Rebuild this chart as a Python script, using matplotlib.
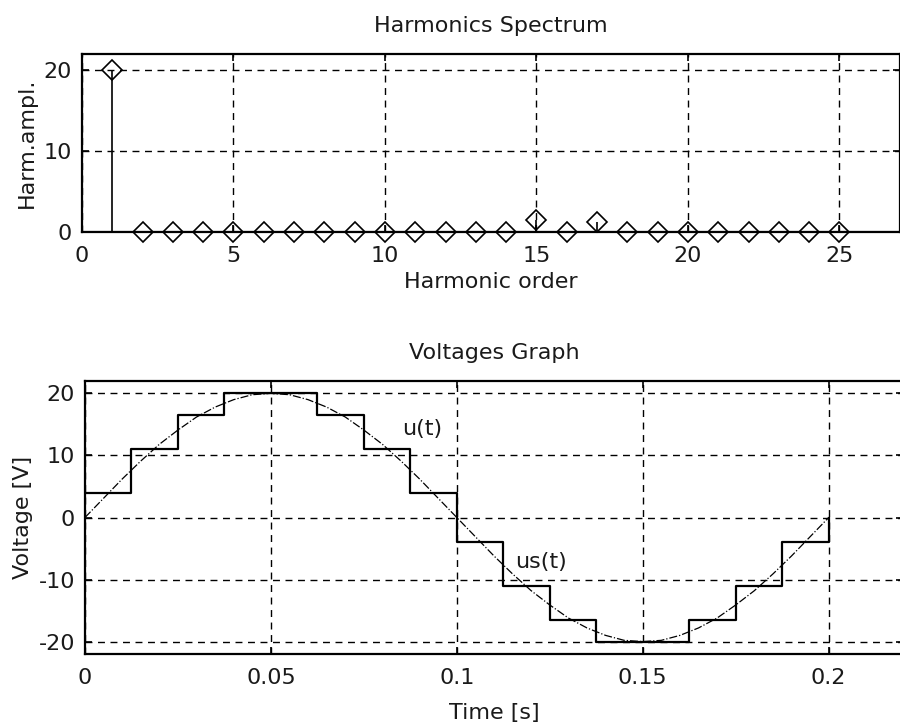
import numpy as np
import matplotlib.pyplot as plt

# harmonics spectrum
harm_order = [1, 2, 3, 4, 5, 6, 7, 8, 9, 10, 11, 12, 13, 14, 15, 16, 17,
              18, 19, 20, 21, 22, 23, 24, 25]
harm_ampl = [20.0, 0, 0, 0, 0, 0, 0, 0, 0, 0, 0, 0, 0, 0, 1.45, 0, 1.2,
             0, 0, 0, 0, 0, 0, 0, 0]

# u(t), read every 5 ms
t_u = [0.000, 0.005, 0.010, 0.015, 0.020, 0.025, 0.030, 0.035, 0.040, 0.045,
       0.050, 0.055, 0.060, 0.065, 0.070, 0.075, 0.080, 0.085, 0.090, 0.095,
       0.100, 0.105, 0.110, 0.115, 0.120, 0.125, 0.130, 0.135, 0.140, 0.145,
       0.150, 0.155, 0.160, 0.165, 0.170, 0.175, 0.180, 0.185, 0.190, 0.195,
       0.200]
u = [0.0, 3.1, 6.2, 9.1, 11.8, 14.1, 16.2, 17.8, 19.0, 19.8,
     20.0, 19.8, 19.0, 17.8, 16.2, 14.1, 11.8, 9.1, 6.2, 3.1,
     0.0, -3.1, -6.2, -9.1, -11.8, -14.1, -16.2, -17.8, -19.0, -19.8,
     -20.0, -19.8, -19.0, -17.8, -16.2, -14.1, -11.8, -9.1, -6.2, -3.1,
     0.0]

# us(t) staircase
t_us = [0.0, 0.0125, 0.025, 0.0375, 0.0625, 0.075, 0.0875, 0.1, 0.1125,
        0.125, 0.1375, 0.1625, 0.175, 0.1875, 0.2]
us = [3.9, 11.1, 16.6, 20.0, 16.6, 11.1, 3.9, -3.9, -11.1, -16.6, -20.0,
      -16.6, -11.1, -3.9, 0.0]

plt.rcParams['font.family'] = 'DejaVu Sans'
plt.rcParams['font.size'] = 16
plt.rcParams['axes.unicode_minus'] = False
txt_col = '#1a1a1a'

fig = plt.figure(figsize=(9, 7.24), dpi=100)
ax1 = fig.add_axes([0.091, 0.6796, 0.909, 0.2459])
ax2 = fig.add_axes([0.0944, 0.0967, 0.909, 0.377])

grid_kw = dict(color='black', linestyle=(0, (5, 4)), linewidth=1.0)

# top: stem plot
ax1.vlines(harm_order, 0, harm_ampl, color='black', linewidth=1.2, zorder=3)
ax1.axhline(0, color='black', linewidth=1.5, zorder=3)
ax1.plot(harm_order, harm_ampl, linestyle='none', marker='D', markersize=10,
         markerfacecolor='none', markeredgecolor='black', markeredgewidth=1.2,
         zorder=4, clip_on=False)
ax1.set_xlim(0, 27)
ax1.set_ylim(0, 22)
ax1.set_xticks([0, 5, 10, 15, 20, 25])
ax1.set_yticks([0, 10, 20])
ax1.grid(True, **grid_kw)
ax1.set_title('Harmonics Spectrum', fontsize=16, pad=16, color=txt_col)
ax1.set_xlabel('Harmonic order', color=txt_col)
ax1.set_ylabel('Harm.ampl.', color=txt_col)
ax1.xaxis.set_label_coords(0.5, -0.224)
ax1.yaxis.set_label_coords(-0.055, 0.5)

# bottom: voltages
ax2.plot(t_u, u, color='black', linestyle='-.', linewidth=0.9, zorder=3)
ax2.plot(t_us, us, color='black', drawstyle='steps-post', linewidth=1.6,
         zorder=4)
ax2.text(0.0852, 14.2, 'u(t)', va='center', ha='left', color=txt_col)
ax2.text(0.1156, -7.1, 'us(t)', va='center', ha='left', color=txt_col)
ax2.set_xlim(0, 0.22)
ax2.set_ylim(-22, 22)
ax2.set_xticks([0, 0.05, 0.1, 0.15, 0.2])
ax2.set_xticklabels(['0', '0.05', '0.1', '0.15', '0.2'])
ax2.set_yticks([-20, -10, 0, 10, 20])
ax2.grid(True, **grid_kw)
ax2.set_title('Voltages Graph', fontsize=16, pad=16, color=txt_col)
ax2.set_xlabel('Time [s]', color=txt_col)
ax2.set_ylabel('Voltage [V]', color=txt_col)
ax2.xaxis.set_label_coords(0.5, -0.18)
ax2.yaxis.set_label_coords(-0.064, 0.5)

for ax in (ax1, ax2):
    ax.set_axisbelow(True)
    ax.tick_params(direction='in', length=5, top=True, right=True,
                   width=1.2, color='black', labelcolor=txt_col)
    ax.tick_params(axis='x', pad=10)
    ax.tick_params(axis='y', pad=7)
    for s in ax.spines.values():
        s.set_linewidth(1.6)
        s.set_color('black')

fig.savefig('out.png', dpi=100)
